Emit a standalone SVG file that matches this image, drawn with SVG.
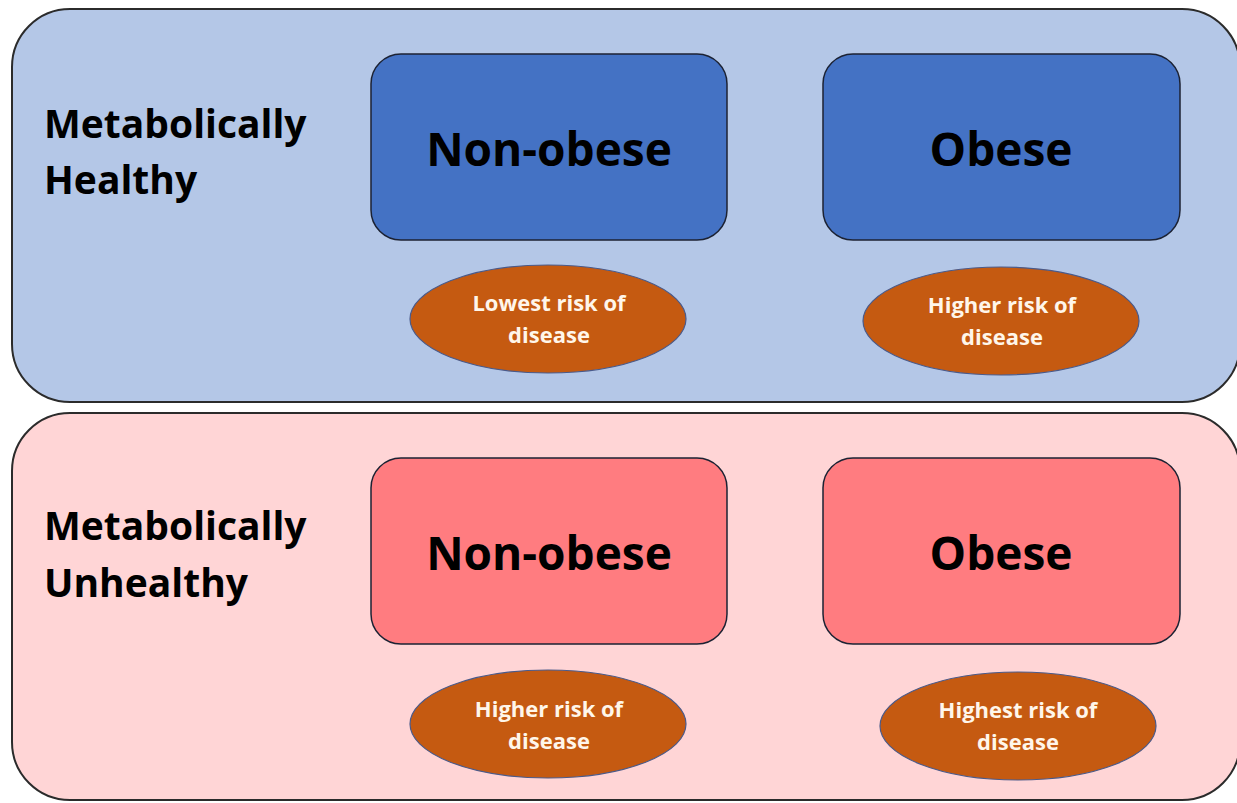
<svg xmlns="http://www.w3.org/2000/svg" width="1237" height="803" viewBox="0 0 1237 803">
<style>
.panel{stroke:#2b2b2b;stroke-width:2}
.box{stroke:#1c2233;stroke-width:1.5}
.ell{fill:#C55A11;stroke:#4a5a8a;stroke-width:1.2}
.lab{font-family:"Open Sans","Liberation Sans",sans-serif;font-weight:bold;fill:#000;font-size:39px}
.big{font-family:"Open Sans","Liberation Sans",sans-serif;font-weight:bold;fill:#000;font-size:46px;text-anchor:middle}
.small{font-family:"Open Sans","Liberation Sans",sans-serif;font-weight:bold;fill:#FFF6EA;font-size:22px;text-anchor:middle}
</style>
<rect width="1237" height="803" fill="#ffffff"/>
<g id="panel-healthy">
<rect class="panel" x="12" y="9" width="1228" height="393" rx="58" fill="#B4C7E7"/>
<text class="lab" x="44" y="138">Metabolically</text>
<text class="lab" x="44" y="194">Healthy</text>
</g>
<g id="panel-unhealthy">
<rect class="panel" x="12" y="413" width="1228" height="387" rx="58" fill="#FFD5D6"/>
<text class="lab" x="44" y="540">Metabolically</text>
<text class="lab" x="44" y="597">Unhealthy</text>
</g>
<g id="healthy-nonobese">
<rect class="box" x="371" y="54" width="356" height="186" rx="30" fill="#4472C4"/>
<text class="big" x="549" y="166">Non-obese</text>
</g>
<g id="healthy-obese">
<rect class="box" x="823" y="54" width="357" height="186" rx="30" fill="#4472C4"/>
<text class="big" x="1001" y="166">Obese</text>
</g>
<g id="unhealthy-nonobese">
<rect class="box" x="371" y="458" width="356" height="186" rx="30" fill="#FF7C80"/>
<text class="big" x="549" y="570">Non-obese</text>
</g>
<g id="unhealthy-obese">
<rect class="box" x="823" y="458" width="357" height="186" rx="30" fill="#FF7C80"/>
<text class="big" x="1001" y="570">Obese</text>
</g>
<g id="risk-lowest">
<ellipse class="ell" cx="548" cy="319" rx="138" ry="54"/>
<text class="small" x="549" y="311">Lowest risk of</text>
<text class="small" x="549" y="343">disease</text>
</g>
<g id="risk-higher-1">
<ellipse class="ell" cx="1001" cy="321" rx="138" ry="54"/>
<text class="small" x="1002" y="313">Higher risk of</text>
<text class="small" x="1002" y="345">disease</text>
</g>
<g id="risk-higher-2">
<ellipse class="ell" cx="548" cy="724" rx="138" ry="54"/>
<text class="small" x="549" y="717">Higher risk of</text>
<text class="small" x="549" y="749">disease</text>
</g>
<g id="risk-highest">
<ellipse class="ell" cx="1018" cy="726" rx="138" ry="54"/>
<text class="small" x="1018" y="718">Highest risk of</text>
<text class="small" x="1018" y="750">disease</text>
</g>
<g id="connectors"></g>
</svg>
